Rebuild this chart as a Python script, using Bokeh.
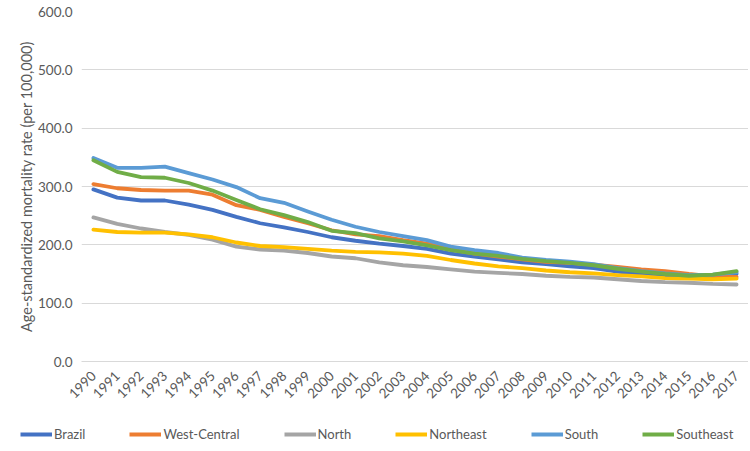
import math
from bokeh.plotting import figure
from bokeh.models import Range1d, NumeralTickFormatter, FixedTicker, Legend, LegendItem
from bokeh.embed import file_html
from bokeh.resources import INLINE

years = list(range(1990, 2018))
brazil = [295, 281, 276, 276, 269, 260, 248, 237, 230, 222, 213, 207, 202, 198, 193, 185, 180, 175, 170, 167, 163, 160, 154, 150, 147, 145, 147, 150]
west_central = [304, 297, 294, 293, 293, 286, 268, 260, 248, 237, 225, 218, 215, 208, 202, 192, 185, 180, 175, 171, 169, 166, 162, 158, 155, 150, 146, 145]
north = [247, 236, 228, 222, 217, 209, 197, 192, 190, 186, 180, 177, 170, 165, 162, 158, 154, 152, 150, 147, 145, 144, 141, 138, 136, 135, 133, 132]
northeast = [226, 222, 221, 221, 218, 213, 204, 198, 196, 193, 190, 188, 187, 185, 181, 174, 168, 163, 160, 156, 153, 151, 148, 146, 143, 142, 141, 142]
south = [349, 332, 332, 334, 323, 312, 299, 280, 272, 257, 243, 231, 222, 215, 208, 197, 191, 186, 178, 174, 171, 167, 160, 155, 151, 148, 149, 153]
southeast = [345, 325, 316, 315, 306, 293, 277, 261, 251, 239, 224, 220, 211, 206, 199, 191, 185, 181, 176, 172, 169, 165, 159, 154, 150, 147, 149, 155]

series_names = ["Brazil", "West-Central", "North", "Northeast", "South", "Southeast"]
series_values = [brazil, west_central, north, northeast, south, southeast]
colors = ["#4472C4", "#ED7D31", "#A5A5A5", "#FFC000", "#5B9BD5", "#70AD47"]
y_ticks = [0, 100, 200, 300, 400, 500, 600]

FONT = "Lato"
TXT = "#595959"

p = figure(width=748, height=418, output_backend="svg", toolbar_location=None,
           x_range=Range1d(1989.5, 2017.5), y_range=Range1d(0, 600),
           min_border_left=81, min_border_right=0, min_border_top=11, min_border_bottom=57)
p.outline_line_color = None
p.background_fill_color = "white"

for name, vals, c in zip(series_names, series_values, colors):
    p.line(years, vals, line_color=c, line_width=3.8, line_join="round", line_cap="round")

# y axis
p.yaxis.ticker = FixedTicker(ticks=y_ticks)
p.yaxis.formatter = NumeralTickFormatter(format="0.0")
p.yaxis.axis_line_color = None
p.yaxis.major_tick_line_color = None
p.yaxis.minor_tick_line_color = None
p.yaxis.major_label_text_font = FONT
p.yaxis.major_label_text_font_size = "13.5px"
p.yaxis.major_label_text_color = TXT
p.yaxis.major_label_standoff = 3
p.yaxis.axis_label = "Age-standardized mortality rate (per 100,000)"
p.yaxis.axis_label_text_font = FONT
p.yaxis.axis_label_text_font_size = "14.5px"
p.yaxis.axis_label_text_font_style = "normal"
p.yaxis.axis_label_text_color = TXT
p.yaxis.axis_label_standoff = 0

# x axis
p.xaxis.ticker = FixedTicker(ticks=years)
p.xaxis.axis_line_color = "#D9D9D9"
p.xaxis.major_tick_line_color = None
p.xaxis.minor_tick_line_color = None
p.xaxis.major_label_orientation = math.pi / 4
p.xaxis.major_label_text_font = FONT
p.xaxis.major_label_text_font_size = "13.5px"
p.xaxis.major_label_text_color = TXT
p.xaxis.major_label_standoff = 6

p.xgrid.grid_line_color = None
p.ygrid.grid_line_color = "#D9D9D9"
p.ygrid.grid_line_width = 1

# legend in a separate strip below the chart
lg = figure(width=748, height=25, output_backend="svg", toolbar_location=None,
            x_range=Range1d(0, 1), y_range=Range1d(0, 1),
            min_border_left=0, min_border_right=0, min_border_top=0, min_border_bottom=0)
lg.axis.visible = False
lg.grid.visible = False
lg.outline_line_color = None
items = []
for name, c in zip(series_names, colors):
    r = lg.line([5, 6], [5, 6], line_color=c, line_width=3.8)
    items.append(LegendItem(label=name, renderers=[r]))
legend = Legend(items=items, orientation="horizontal", location=(20, 1),
                label_text_font=FONT, label_text_font_size="13px", label_text_color=TXT,
                glyph_width=32, glyph_height=14, label_standoff=2, spacing=44,
                border_line_color=None, background_fill_alpha=0, margin=0, padding=4)
lg.add_layout(legend, "center")

open("out.html", "w").write(file_html([p, lg], INLINE))
